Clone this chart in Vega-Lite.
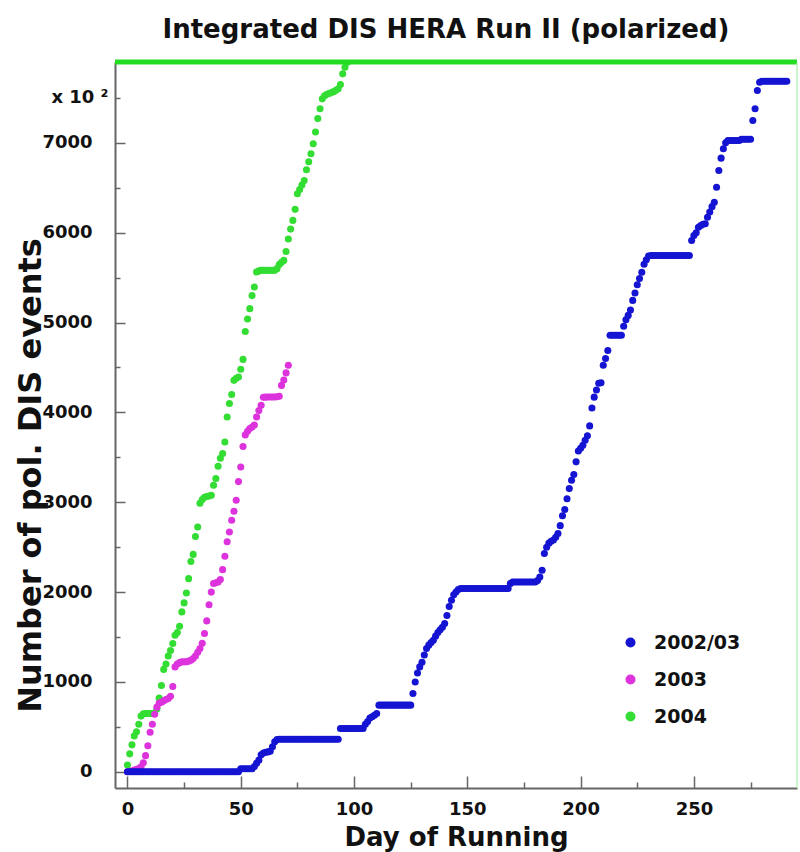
{
  "$schema": "https://vega.github.io/schema/vega-lite/v6.json",
  "autosize": "none",
  "width": 682,
  "height": 726,
  "padding": {"left": 115, "top": 62, "right": 3, "bottom": 64},
  "background": "white",
  "config": {"view": {"stroke": null}},
  "title": {"text": "Integrated DIS HERA Run II (polarized)", "font": "DejaVu Sans", "fontSize": 26, "fontWeight": "bold", "color": "#111", "anchor": "middle", "dx": -10, "offset": -4, "baseline": "alphabetic"},
  "datasets": {
    "runs": [
      {"run":"2004","day":0,"events":75},{"run":"2004","day":1,"events":200},{"run":"2004","day":2,"events":300},{"run":"2004","day":3,"events":400},{"run":"2004","day":4,"events":445},{"run":"2004","day":5,"events":530},{"run":"2004","day":6,"events":620},{"run":"2004","day":7,"events":645},{"run":"2004","day":8,"events":650},{"run":"2004","day":9,"events":650},
      {"run":"2004","day":10,"events":650},{"run":"2004","day":11,"events":650},{"run":"2004","day":12,"events":655},{"run":"2004","day":13,"events":700},{"run":"2004","day":14,"events":820},{"run":"2004","day":15,"events":960},{"run":"2004","day":16,"events":1140},{"run":"2004","day":17,"events":1200},{"run":"2004","day":18,"events":1290},{"run":"2004","day":19,"events":1350},
      {"run":"2004","day":20,"events":1428},{"run":"2004","day":21,"events":1521},{"run":"2004","day":22,"events":1550},{"run":"2004","day":23,"events":1620},{"run":"2004","day":24,"events":1780},{"run":"2004","day":25,"events":1880},{"run":"2004","day":26,"events":1990},{"run":"2004","day":27,"events":2150},{"run":"2004","day":28,"events":2340},{"run":"2004","day":29,"events":2420},
      {"run":"2004","day":30,"events":2620},{"run":"2004","day":31,"events":2725},{"run":"2004","day":32,"events":2990},{"run":"2004","day":33,"events":3030},{"run":"2004","day":34,"events":3055},{"run":"2004","day":35,"events":3065},{"run":"2004","day":36,"events":3070},{"run":"2004","day":37,"events":3078},{"run":"2004","day":38,"events":3190},{"run":"2004","day":39,"events":3264},
      {"run":"2004","day":40,"events":3400},{"run":"2004","day":41,"events":3490},{"run":"2004","day":42,"events":3542},{"run":"2004","day":43,"events":3671},{"run":"2004","day":44,"events":3950},{"run":"2004","day":45,"events":4100},{"run":"2004","day":46,"events":4200},{"run":"2004","day":47,"events":4357},{"run":"2004","day":48,"events":4380},{"run":"2004","day":49,"events":4394},
      {"run":"2004","day":50,"events":4480},{"run":"2004","day":51,"events":4590},{"run":"2004","day":52,"events":4900},{"run":"2004","day":53,"events":5040},{"run":"2004","day":54,"events":5155},{"run":"2004","day":55,"events":5300},{"run":"2004","day":56,"events":5395},{"run":"2004","day":57,"events":5562},{"run":"2004","day":58,"events":5575},{"run":"2004","day":59,"events":5581},
      {"run":"2004","day":60,"events":5581},{"run":"2004","day":61,"events":5581},{"run":"2004","day":62,"events":5581},{"run":"2004","day":63,"events":5581},{"run":"2004","day":64,"events":5581},{"run":"2004","day":65,"events":5581},{"run":"2004","day":66,"events":5600},{"run":"2004","day":67,"events":5647},{"run":"2004","day":68,"events":5670},{"run":"2004","day":69,"events":5692},
      {"run":"2004","day":70,"events":5790},{"run":"2004","day":71,"events":5930},{"run":"2004","day":72,"events":6040},{"run":"2004","day":73,"events":6137},{"run":"2004","day":74,"events":6260},{"run":"2004","day":75,"events":6434},{"run":"2004","day":76,"events":6480},{"run":"2004","day":77,"events":6530},{"run":"2004","day":78,"events":6582},{"run":"2004","day":79,"events":6700},
      {"run":"2004","day":80,"events":6790},{"run":"2004","day":81,"events":6879},{"run":"2004","day":82,"events":6990},{"run":"2004","day":83,"events":7120},{"run":"2004","day":84,"events":7270},{"run":"2004","day":85,"events":7380},{"run":"2004","day":86,"events":7490},{"run":"2004","day":87,"events":7525},{"run":"2004","day":88,"events":7540},{"run":"2004","day":89,"events":7550},
      {"run":"2004","day":90,"events":7560},{"run":"2004","day":91,"events":7570},{"run":"2004","day":92,"events":7585},{"run":"2004","day":93,"events":7602},{"run":"2004","day":94,"events":7650},{"run":"2004","day":95,"events":7768},{"run":"2004","day":96,"events":7842},{"run":"2004","day":97,"events":7898},

      {"run":"2003","day":0,"events":0},{"run":"2003","day":1,"events":5},{"run":"2003","day":2,"events":10},{"run":"2003","day":3,"events":19},{"run":"2003","day":4,"events":28},{"run":"2003","day":5,"events":38},{"run":"2003","day":6,"events":55},{"run":"2003","day":7,"events":100},{"run":"2003","day":8,"events":180},{"run":"2003","day":9,"events":290},
      {"run":"2003","day":10,"events":440},{"run":"2003","day":11,"events":530},{"run":"2003","day":12,"events":640},{"run":"2003","day":13,"events":720},{"run":"2003","day":14,"events":765},{"run":"2003","day":15,"events":775},{"run":"2003","day":16,"events":790},{"run":"2003","day":17,"events":805},{"run":"2003","day":18,"events":816},{"run":"2003","day":19,"events":840},
      {"run":"2003","day":20,"events":950},{"run":"2003","day":21,"events":1168},{"run":"2003","day":22,"events":1200},{"run":"2003","day":23,"events":1215},{"run":"2003","day":24,"events":1224},{"run":"2003","day":25,"events":1224},{"run":"2003","day":26,"events":1224},{"run":"2003","day":27,"events":1232},{"run":"2003","day":28,"events":1242},{"run":"2003","day":29,"events":1260},
      {"run":"2003","day":30,"events":1290},{"run":"2003","day":31,"events":1330},{"run":"2003","day":32,"events":1373},{"run":"2003","day":33,"events":1430},{"run":"2003","day":34,"events":1540},{"run":"2003","day":35,"events":1680},{"run":"2003","day":36,"events":1860},{"run":"2003","day":37,"events":2000},{"run":"2003","day":38,"events":2096},{"run":"2003","day":39,"events":2105},
      {"run":"2003","day":40,"events":2113},{"run":"2003","day":41,"events":2140},{"run":"2003","day":42,"events":2250},{"run":"2003","day":43,"events":2400},{"run":"2003","day":44,"events":2560},{"run":"2003","day":45,"events":2670},{"run":"2003","day":46,"events":2800},{"run":"2003","day":47,"events":2900},{"run":"2003","day":48,"events":3022},{"run":"2003","day":49,"events":3230},
      {"run":"2003","day":50,"events":3393},{"run":"2003","day":51,"events":3620},{"run":"2003","day":52,"events":3750},{"run":"2003","day":53,"events":3790},{"run":"2003","day":54,"events":3820},{"run":"2003","day":55,"events":3838},{"run":"2003","day":56,"events":3860},{"run":"2003","day":57,"events":3950},{"run":"2003","day":58,"events":4020},{"run":"2003","day":59,"events":4080},
      {"run":"2003","day":60,"events":4168},{"run":"2003","day":61,"events":4170},{"run":"2003","day":62,"events":4171},{"run":"2003","day":63,"events":4171},{"run":"2003","day":64,"events":4171},{"run":"2003","day":65,"events":4171},{"run":"2003","day":66,"events":4175},{"run":"2003","day":67,"events":4179},{"run":"2003","day":68,"events":4301},{"run":"2003","day":69,"events":4360},
      {"run":"2003","day":70,"events":4440},{"run":"2003","day":71,"events":4524},

      {"run":"2002/03","day":0,"events":0},{"run":"2002/03","day":1,"events":0},{"run":"2002/03","day":2,"events":0},{"run":"2002/03","day":3,"events":0},{"run":"2002/03","day":4,"events":0},{"run":"2002/03","day":5,"events":0},{"run":"2002/03","day":6,"events":0},{"run":"2002/03","day":7,"events":0},{"run":"2002/03","day":8,"events":0},{"run":"2002/03","day":9,"events":0},
      {"run":"2002/03","day":10,"events":0},{"run":"2002/03","day":11,"events":0},{"run":"2002/03","day":12,"events":0},{"run":"2002/03","day":13,"events":0},{"run":"2002/03","day":14,"events":0},{"run":"2002/03","day":15,"events":0},{"run":"2002/03","day":16,"events":0},{"run":"2002/03","day":17,"events":0},{"run":"2002/03","day":18,"events":0},{"run":"2002/03","day":19,"events":0},
      {"run":"2002/03","day":20,"events":0},{"run":"2002/03","day":21,"events":0},{"run":"2002/03","day":22,"events":0},{"run":"2002/03","day":23,"events":0},{"run":"2002/03","day":24,"events":0},{"run":"2002/03","day":25,"events":0},{"run":"2002/03","day":26,"events":0},{"run":"2002/03","day":27,"events":0},{"run":"2002/03","day":28,"events":0},{"run":"2002/03","day":29,"events":0},
      {"run":"2002/03","day":30,"events":0},{"run":"2002/03","day":31,"events":0},{"run":"2002/03","day":32,"events":0},{"run":"2002/03","day":33,"events":0},{"run":"2002/03","day":34,"events":0},{"run":"2002/03","day":35,"events":0},{"run":"2002/03","day":36,"events":0},{"run":"2002/03","day":37,"events":0},{"run":"2002/03","day":38,"events":0},{"run":"2002/03","day":39,"events":0},
      {"run":"2002/03","day":40,"events":0},{"run":"2002/03","day":41,"events":0},{"run":"2002/03","day":42,"events":0},{"run":"2002/03","day":43,"events":0},{"run":"2002/03","day":44,"events":0},{"run":"2002/03","day":45,"events":0},{"run":"2002/03","day":46,"events":0},{"run":"2002/03","day":47,"events":0},{"run":"2002/03","day":48,"events":0},{"run":"2002/03","day":49,"events":0},
      {"run":"2002/03","day":50,"events":35},{"run":"2002/03","day":51,"events":35},{"run":"2002/03","day":52,"events":35},{"run":"2002/03","day":53,"events":35},{"run":"2002/03","day":54,"events":35},{"run":"2002/03","day":55,"events":35},{"run":"2002/03","day":56,"events":60},{"run":"2002/03","day":57,"events":95},{"run":"2002/03","day":58,"events":130},{"run":"2002/03","day":59,"events":190},
      {"run":"2002/03","day":60,"events":210},{"run":"2002/03","day":61,"events":218},{"run":"2002/03","day":62,"events":222},{"run":"2002/03","day":63,"events":230},{"run":"2002/03","day":64,"events":280},{"run":"2002/03","day":65,"events":334},{"run":"2002/03","day":66,"events":360},{"run":"2002/03","day":67,"events":362},{"run":"2002/03","day":68,"events":362},{"run":"2002/03","day":69,"events":362},
      {"run":"2002/03","day":70,"events":362},{"run":"2002/03","day":71,"events":362},{"run":"2002/03","day":72,"events":362},{"run":"2002/03","day":73,"events":362},{"run":"2002/03","day":74,"events":362},{"run":"2002/03","day":75,"events":362},{"run":"2002/03","day":76,"events":362},{"run":"2002/03","day":77,"events":362},{"run":"2002/03","day":78,"events":362},{"run":"2002/03","day":79,"events":362},
      {"run":"2002/03","day":80,"events":362},{"run":"2002/03","day":81,"events":362},{"run":"2002/03","day":82,"events":362},{"run":"2002/03","day":83,"events":362},{"run":"2002/03","day":84,"events":362},{"run":"2002/03","day":85,"events":362},{"run":"2002/03","day":86,"events":362},{"run":"2002/03","day":87,"events":362},{"run":"2002/03","day":88,"events":362},{"run":"2002/03","day":89,"events":362},
      {"run":"2002/03","day":90,"events":362},{"run":"2002/03","day":91,"events":362},{"run":"2002/03","day":92,"events":362},{"run":"2002/03","day":93,"events":362},{"run":"2002/03","day":94,"events":483},{"run":"2002/03","day":95,"events":483},{"run":"2002/03","day":96,"events":483},{"run":"2002/03","day":97,"events":483},{"run":"2002/03","day":98,"events":483},{"run":"2002/03","day":99,"events":483},
      {"run":"2002/03","day":100,"events":483},{"run":"2002/03","day":101,"events":483},{"run":"2002/03","day":102,"events":483},{"run":"2002/03","day":103,"events":483},{"run":"2002/03","day":104,"events":483},{"run":"2002/03","day":105,"events":530},{"run":"2002/03","day":106,"events":560},{"run":"2002/03","day":107,"events":600},{"run":"2002/03","day":108,"events":612},{"run":"2002/03","day":109,"events":630},
      {"run":"2002/03","day":110,"events":650},{"run":"2002/03","day":111,"events":742},{"run":"2002/03","day":112,"events":742},{"run":"2002/03","day":113,"events":742},{"run":"2002/03","day":114,"events":742},{"run":"2002/03","day":115,"events":742},{"run":"2002/03","day":116,"events":742},{"run":"2002/03","day":117,"events":742},{"run":"2002/03","day":118,"events":742},{"run":"2002/03","day":119,"events":742},
      {"run":"2002/03","day":120,"events":742},{"run":"2002/03","day":121,"events":742},{"run":"2002/03","day":122,"events":742},{"run":"2002/03","day":123,"events":742},{"run":"2002/03","day":124,"events":742},{"run":"2002/03","day":125,"events":742},{"run":"2002/03","day":126,"events":872},{"run":"2002/03","day":127,"events":1000},{"run":"2002/03","day":128,"events":1100},{"run":"2002/03","day":129,"events":1168},
      {"run":"2002/03","day":130,"events":1220},{"run":"2002/03","day":131,"events":1300},{"run":"2002/03","day":132,"events":1373},{"run":"2002/03","day":133,"events":1410},{"run":"2002/03","day":134,"events":1440},{"run":"2002/03","day":135,"events":1465},{"run":"2002/03","day":136,"events":1510},{"run":"2002/03","day":137,"events":1550},{"run":"2002/03","day":138,"events":1580},{"run":"2002/03","day":139,"events":1610},
      {"run":"2002/03","day":140,"events":1650},{"run":"2002/03","day":141,"events":1740},{"run":"2002/03","day":142,"events":1840},{"run":"2002/03","day":143,"events":1910},{"run":"2002/03","day":144,"events":1970},{"run":"2002/03","day":145,"events":2002},{"run":"2002/03","day":146,"events":2030},{"run":"2002/03","day":147,"events":2040},{"run":"2002/03","day":148,"events":2040},{"run":"2002/03","day":149,"events":2040},
      {"run":"2002/03","day":150,"events":2040},{"run":"2002/03","day":151,"events":2040},{"run":"2002/03","day":152,"events":2040},{"run":"2002/03","day":153,"events":2040},{"run":"2002/03","day":154,"events":2040},{"run":"2002/03","day":155,"events":2040},{"run":"2002/03","day":156,"events":2040},{"run":"2002/03","day":157,"events":2040},{"run":"2002/03","day":158,"events":2040},{"run":"2002/03","day":159,"events":2040},
      {"run":"2002/03","day":160,"events":2040},{"run":"2002/03","day":161,"events":2040},{"run":"2002/03","day":162,"events":2040},{"run":"2002/03","day":163,"events":2040},{"run":"2002/03","day":164,"events":2040},{"run":"2002/03","day":165,"events":2040},{"run":"2002/03","day":166,"events":2040},{"run":"2002/03","day":167,"events":2040},{"run":"2002/03","day":168,"events":2040},{"run":"2002/03","day":169,"events":2096},
      {"run":"2002/03","day":170,"events":2113},{"run":"2002/03","day":171,"events":2113},{"run":"2002/03","day":172,"events":2113},{"run":"2002/03","day":173,"events":2113},{"run":"2002/03","day":174,"events":2113},{"run":"2002/03","day":175,"events":2113},{"run":"2002/03","day":176,"events":2113},{"run":"2002/03","day":177,"events":2113},{"run":"2002/03","day":178,"events":2113},{"run":"2002/03","day":179,"events":2113},
      {"run":"2002/03","day":180,"events":2113},{"run":"2002/03","day":181,"events":2130},{"run":"2002/03","day":182,"events":2169},{"run":"2002/03","day":183,"events":2244},{"run":"2002/03","day":184,"events":2429},{"run":"2002/03","day":185,"events":2500},{"run":"2002/03","day":186,"events":2545},{"run":"2002/03","day":187,"events":2565},{"run":"2002/03","day":188,"events":2580},{"run":"2002/03","day":189,"events":2610},
      {"run":"2002/03","day":190,"events":2652},{"run":"2002/03","day":191,"events":2740},{"run":"2002/03","day":192,"events":2850},{"run":"2002/03","day":193,"events":2920},{"run":"2002/03","day":194,"events":3040},{"run":"2002/03","day":195,"events":3152},{"run":"2002/03","day":196,"events":3245},{"run":"2002/03","day":197,"events":3310},{"run":"2002/03","day":198,"events":3450},{"run":"2002/03","day":199,"events":3570},
      {"run":"2002/03","day":200,"events":3600},{"run":"2002/03","day":201,"events":3634},{"run":"2002/03","day":202,"events":3690},{"run":"2002/03","day":203,"events":3740},{"run":"2002/03","day":204,"events":3850},{"run":"2002/03","day":205,"events":4050},{"run":"2002/03","day":206,"events":4170},{"run":"2002/03","day":207,"events":4250},{"run":"2002/03","day":208,"events":4325},{"run":"2002/03","day":209,"events":4331},
      {"run":"2002/03","day":210,"events":4524},{"run":"2002/03","day":211,"events":4600},{"run":"2002/03","day":212,"events":4690},{"run":"2002/03","day":213,"events":4858},{"run":"2002/03","day":214,"events":4858},{"run":"2002/03","day":215,"events":4858},{"run":"2002/03","day":216,"events":4858},{"run":"2002/03","day":217,"events":4858},{"run":"2002/03","day":218,"events":4858},{"run":"2002/03","day":219,"events":4960},
      {"run":"2002/03","day":220,"events":5030},{"run":"2002/03","day":221,"events":5080},{"run":"2002/03","day":222,"events":5140},{"run":"2002/03","day":223,"events":5247},{"run":"2002/03","day":224,"events":5330},{"run":"2002/03","day":225,"events":5420},{"run":"2002/03","day":226,"events":5490},{"run":"2002/03","day":227,"events":5560},{"run":"2002/03","day":228,"events":5650},{"run":"2002/03","day":229,"events":5700},
      {"run":"2002/03","day":230,"events":5740},{"run":"2002/03","day":231,"events":5747},{"run":"2002/03","day":232,"events":5747},{"run":"2002/03","day":233,"events":5747},{"run":"2002/03","day":234,"events":5747},{"run":"2002/03","day":235,"events":5747},{"run":"2002/03","day":236,"events":5747},{"run":"2002/03","day":237,"events":5747},{"run":"2002/03","day":238,"events":5747},{"run":"2002/03","day":239,"events":5747},
      {"run":"2002/03","day":240,"events":5747},{"run":"2002/03","day":241,"events":5747},{"run":"2002/03","day":242,"events":5747},{"run":"2002/03","day":243,"events":5747},{"run":"2002/03","day":244,"events":5747},{"run":"2002/03","day":245,"events":5747},{"run":"2002/03","day":246,"events":5747},{"run":"2002/03","day":247,"events":5747},{"run":"2002/03","day":248,"events":5747},{"run":"2002/03","day":249,"events":5914},
      {"run":"2002/03","day":250,"events":5970},{"run":"2002/03","day":251,"events":6000},{"run":"2002/03","day":252,"events":6060},{"run":"2002/03","day":253,"events":6081},{"run":"2002/03","day":254,"events":6095},{"run":"2002/03","day":255,"events":6100},{"run":"2002/03","day":256,"events":6173},{"run":"2002/03","day":257,"events":6230},{"run":"2002/03","day":258,"events":6290},{"run":"2002/03","day":259,"events":6340},
      {"run":"2002/03","day":260,"events":6507},{"run":"2002/03","day":261,"events":6693},{"run":"2002/03","day":262,"events":6830},{"run":"2002/03","day":263,"events":6934},{"run":"2002/03","day":264,"events":7000},{"run":"2002/03","day":265,"events":7026},{"run":"2002/03","day":266,"events":7026},{"run":"2002/03","day":267,"events":7026},{"run":"2002/03","day":268,"events":7026},{"run":"2002/03","day":269,"events":7026},
      {"run":"2002/03","day":270,"events":7026},{"run":"2002/03","day":271,"events":7040},{"run":"2002/03","day":272,"events":7040},{"run":"2002/03","day":273,"events":7040},{"run":"2002/03","day":274,"events":7040},{"run":"2002/03","day":275,"events":7040},{"run":"2002/03","day":276,"events":7249},{"run":"2002/03","day":277,"events":7379},{"run":"2002/03","day":278,"events":7583},{"run":"2002/03","day":279,"events":7675},
      {"run":"2002/03","day":280,"events":7686},{"run":"2002/03","day":281,"events":7686},{"run":"2002/03","day":282,"events":7686},{"run":"2002/03","day":283,"events":7686},{"run":"2002/03","day":284,"events":7686},{"run":"2002/03","day":285,"events":7686},{"run":"2002/03","day":286,"events":7686},{"run":"2002/03","day":287,"events":7686},{"run":"2002/03","day":288,"events":7686},{"run":"2002/03","day":289,"events":7686},
      {"run":"2002/03","day":290,"events":7686},{"run":"2002/03","day":291,"events":7686}
    ],
    "frame": [{"top": 7900, "right": 295.5}]
  },
  "layer": [
    {
      "data": {"name": "runs"},
      "mark": {"type": "point", "filled": true, "shape": "circle", "size": 50, "opacity": 1, "clip": true},
      "encoding": {
        "x": {
          "field": "day", "type": "quantitative",
          "scale": {"domain": [-5.5, 295.5], "nice": false, "zero": false},
          "axis": {
            "title": "Day of Running",
            "values": [0, 25, 50, 75, 100, 125, 150, 175, 200, 225, 250, 275],
            "format": "d",
            "labelExpr": "datum.value % 50 === 0 ? datum.label : ''",
            "tickSize": {"condition": {"test": "datum.value % 50 === 0", "value": -12}, "value": -6},
            "labelPadding": 24,
            "tickColor": "#666", "tickWidth": 1.5,
            "domainColor": "#666", "domainWidth": 2,
            "grid": false, "labelFlush": false, "labelOverlap": false,
            "labelFont": "DejaVu Sans", "labelFontSize": 18, "labelFontWeight": "bold", "labelColor": "#111",
            "titleFont": "DejaVu Sans", "titleFontSize": 26, "titleFontWeight": "bold", "titleColor": "#111",
            "titlePadding": 0
          }
        },
        "y": {
          "field": "events", "type": "quantitative",
          "scale": {"domain": [-180, 7900], "nice": false, "zero": false},
          "axis": {
            "title": "Number of pol. DIS events",
            "values": [0, 250, 500, 750, 1000, 1250, 1500, 1750, 2000, 2250, 2500, 2750, 3000, 3250, 3500, 3750, 4000, 4250, 4500, 4750, 5000, 5250, 5500, 5750, 6000, 6250, 6500, 6750, 7000, 7250, 7500, 7750],
            "format": "d",
            "labelExpr": "datum.value === 7500 ? 'x 10 ²' : (datum.value % 1000 === 0 ? datum.label : '')",
            "tickSize": {"condition": {"test": "datum.value % 1000 === 0", "value": -10}, "value": -5},
            "labelPadding": {"condition": {"test": "datum.value === 7500", "value": 12}, "value": 33},
            "tickColor": "#666", "tickWidth": 1.5,
            "domainColor": "#666", "domainWidth": 2,
            "grid": false, "labelFlush": false, "labelOverlap": false,
            "labelFont": "DejaVu Sans", "labelFontSize": 18, "labelFontWeight": "bold", "labelColor": "#111",
            "titleFont": "DejaVu Sans", "titleFontSize": 32, "titleFontWeight": "bold", "titleColor": "#111",
            "titleX": -68, "titleY": 413
          }
        },
        "color": {
          "field": "run", "type": "nominal",
          "scale": {"domain": ["2002/03", "2003", "2004"], "range": ["#1414d2", "#dd33dd", "#33dd33"]},
          "legend": {
            "title": null, "orient": "none", "legendX": 506, "legendY": 571,
            "symbolType": "circle", "symbolSize": 100, "symbolStrokeWidth": 0,
            "labelFont": "DejaVu Sans", "labelFontSize": 19, "labelFontWeight": "bold", "labelColor": "#111",
            "labelOffset": 14, "rowPadding": 17, "padding": 0
          }
        }
      }
    },
    {
      "data": {"name": "frame"},
      "mark": {"type": "rule", "color": "#22dd22", "strokeWidth": 5},
      "encoding": {"y": {"field": "top", "type": "quantitative"}}
    },
    {
      "data": {"name": "frame"},
      "mark": {"type": "rule", "color": "#99ee99", "strokeWidth": 2, "opacity": 0.5},
      "encoding": {"x": {"field": "right", "type": "quantitative"}}
    }
  ]
}
